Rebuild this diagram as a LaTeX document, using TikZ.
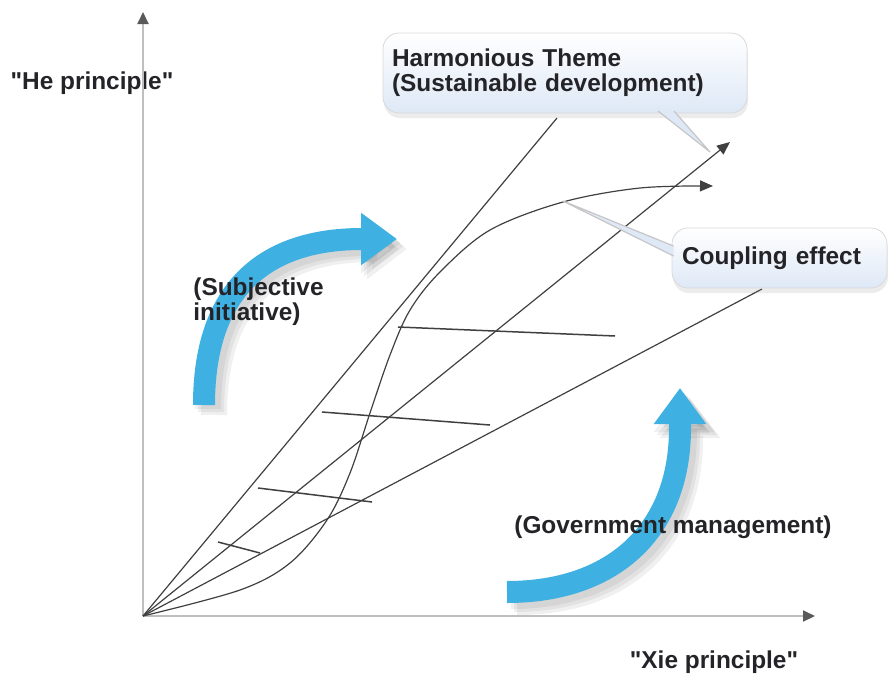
\documentclass[tikz,border=0pt]{standalone}
\usepackage{fontspec}
\setmainfont{Liberation Sans}
\usepackage{tikz}
\usetikzlibrary{arrows.meta, shadows}

\definecolor{arrowblue}{RGB}{62,176,226}
\definecolor{bubblelow}{RGB}{222,232,246}
\definecolor{labelgray}{RGB}{36,36,40}

\begin{document}
\begin{tikzpicture}[
      x=0.5pt, y=-0.5pt,
      axis/.style={draw=gray!50, line width=1pt, -{Triangle[length=6pt, width=5.5pt, color=black!65]}},
      curve/.style={draw=black!75, line width=0.6pt},
      tip/.style={-{Triangle[length=6.5pt, width=5.5pt]}},
      rung/.style={draw=black!75, line width=0.75pt},
      bubble/.style={draw=gray!30, rounded corners=8pt, top color=white, bottom color=bubblelow,
        drop shadow={shadow xshift=0.5pt, shadow yshift=-2.5pt, opacity=0.15}},
      pointer/.style={fill=bubblelow, draw=gray!45, line width=0.6pt},
      bigarrow/.style={draw=arrowblue, line width=11pt, -{Triangle[length=18pt, width=25pt]}},
      arrowshadow/.style={draw=black, opacity=0.06, line width=13pt, -{Triangle[length=20pt, width=29pt]}},
      label/.style={font=\fontsize{12.2}{12.5}\selectfont\bfseries, text=labelgray, inner sep=0pt}
    ]

    \useasboundingbox (0,0) rectangle (888,675);

    % Axes
    \coordinate (O) at (143,616);
    \coordinate (yEnd) at (143,12);
    \coordinate (xEnd) at (815,616);

    \node[label] (heLabel) at (92,83) {\textquotedbl He principle\textquotedbl};
    \node[label] (xieLabel) at (714,662) {\textquotedbl Xie principle\textquotedbl};

    \draw[axis] (O) -- (yEnd);
    \draw[axis] (O) -- (xEnd);

    % Blue arrows with soft shadow
    \foreach \s in {4,7,10} {
      \begin{scope}[shift={(\s,\s)}]
        \draw[arrowshadow] (204,405) .. controls (204,292) and (262,239) .. (362,239) -- (397,239);
        \draw[arrowshadow] (507,592) .. controls (612,592) and (680,532) .. (680,428) -- (680,388);
      \end{scope}
    }
    \draw[bigarrow] (204,405) .. controls (204,292) and (262,239) .. (362,239) -- (397,239);
    \draw[bigarrow] (507,592) .. controls (612,592) and (680,532) .. (680,428) -- (680,388);

    \node[label, align=left, anchor=north west] (subjLabel) at (193,277) {(Subjective\\initiative)};
    \node[label] (govLabel) at (673,527) {(Government management)};

    % Rays from the origin
    \coordinate (upEnd) at (557,118);
    \coordinate (midEnd) at (730,142);
    \coordinate (lowEnd) at (762,289);

    \draw[curve] (O) -- (upEnd);
    \draw[curve, tip] (O) -- (midEnd);
    \draw[curve] (O) -- (lowEnd);

    % Coupling curve
    \draw[curve, tip] plot[smooth, tension=0.55] coordinates {
      (143,616) (240,590) (290,563) (327,520) (350,473) (370,413) (390,355)
      (410,310) (440,272) (490,230) (563,202) (640,188) (713,186)};

    % Cross bars
    \foreach \xa/\ya/\xb/\yb in {398/327/615/336, 322/412/490/425, 258/488/372/502, 218/542/260/553}
      \draw[rung] (\xa,\ya) -- (\xb,\yb);

    % Callouts
    \node[bubble, label, minimum width=182pt, minimum height=40pt, inner xsep=4.5pt,
      text width=173pt, align=left] (harmony) at (565,73)
      {Harmonious Theme\\(Sustainable development)};
    \coordinate (harmonyTip) at (710,152);
    \draw[pointer] (658,111) -- (harmonyTip) -- (674,111);

    \node[bubble, label, minimum width=107.5pt, minimum height=30pt, inner xsep=5pt,
      text width=97.5pt, align=left] (coupling) at (779.5,258) {Coupling effect};
    \coordinate (couplingTip) at (563,201);
    \draw[pointer] (673.5,246) -- (couplingTip) -- (673.5,256);

  \end{tikzpicture}
\end{document}
